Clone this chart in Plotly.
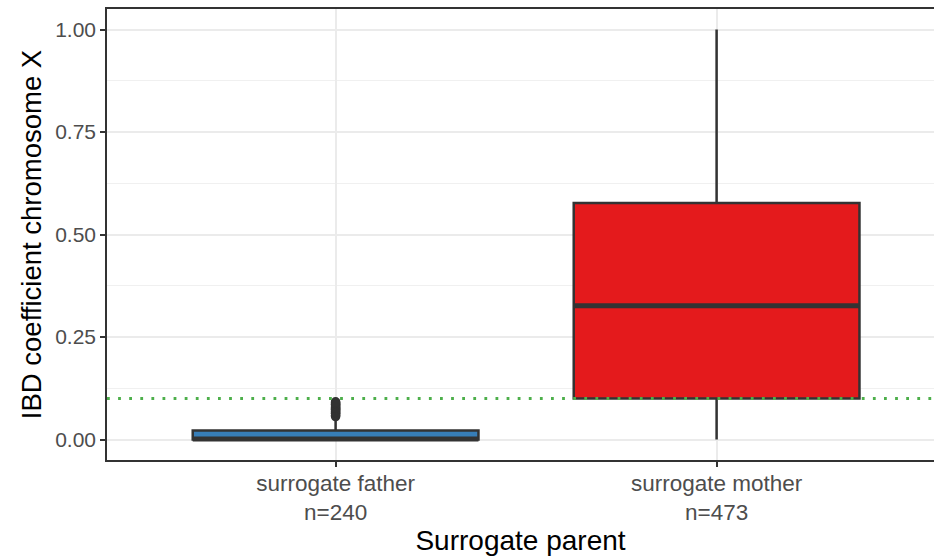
import plotly.graph_objects as go

categories = ["surrogate father", "surrogate mother"]
tick_labels = ["surrogate father<br>n=240", "surrogate mother<br>n=473"]
colors = ["#377eb8", "#e41a1c"]
q1 = [0.0, 0.100]
median = [0.0015, 0.326]
q3 = [0.022, 0.577]
lowerfence = [0.0, 0.0]
upperfence = [0.045, 1.0]
father_outliers = [0.056, 0.059, 0.062, 0.064, 0.066, 0.068, 0.070, 0.072, 0.074,
                   0.076, 0.078, 0.080, 0.082, 0.084, 0.086, 0.088, 0.090, 0.092]
threshold = 0.1

FONT = "Liberation Sans, Arial, sans-serif"
DARK = "#333333"
BOX_W = 0.75

fig = go.Figure()
for i, cat in enumerate(categories):
    fig.add_trace(go.Box(
        x=[cat], q1=[q1[i]], median=[median[i]], q3=[q3[i]],
        lowerfence=[lowerfence[i]], upperfence=[upperfence[i]],
        fillcolor=colors[i], line=dict(color=DARK, width=2.5),
        width=BOX_W, whiskerwidth=0, boxpoints=False, showlegend=False,
    ))
    # thicker median (ggplot fatten)
    fig.add_shape(type="line", xref="x", yref="y",
                  x0=i - BOX_W / 2, x1=i + BOX_W / 2, y0=median[i], y1=median[i],
                  line=dict(color=DARK, width=5), layer="above")

fig.add_trace(go.Scatter(
    x=[categories[0]] * len(father_outliers), y=father_outliers, mode="markers",
    marker=dict(color=DARK, size=9.5, line=dict(width=0)), showlegend=False,
))

fig.add_shape(type="line", xref="paper", yref="y", x0=0, x1=1, y0=threshold, y1=threshold,
              line=dict(color="#4daf4a", width=2.8, dash="2.8px,8.3px"), layer="above")

fig.update_layout(
    width=934, height=556,
    margin=dict(l=107, r=0, t=9, b=96),
    paper_bgcolor="white", plot_bgcolor="white",
    boxmode="overlay",
    font=dict(family=FONT, color="#4d4d4d", size=22),
    xaxis=dict(
        type="category", categoryorder="array", categoryarray=categories,
        range=[-0.6, -0.6 + 827 / 381],
        tickmode="array", tickvals=categories, ticktext=tick_labels,
        ticks="outside", ticklen=5, tickwidth=1.5, tickcolor=DARK,
        ticklabelstandoff=-3,
        showgrid=True, gridcolor="#ebebeb", gridwidth=1.6,
        showline=True, linecolor=DARK, linewidth=1.6, mirror=True,
        tickfont=dict(size=22.5, color="#4d4d4d"),
        title=dict(text="Surrogate parent", font=dict(size=28, color="black"), standoff=0),
        zeroline=False,
    ),
    yaxis=dict(
        range=[-0.05, 1.05],
        tickmode="linear", tick0=0, dtick=0.25, tickformat=".2f",
        ticks="outside", ticklen=5, tickwidth=1.5, tickcolor=DARK,
        showgrid=True, gridcolor="#ebebeb", gridwidth=1.6,
        minor=dict(dtick=0.125, tick0=0, showgrid=True, gridcolor="#f0f0f0", gridwidth=1.3, ticks=""),
        showline=True, linecolor=DARK, linewidth=1.6, mirror=False,
        tickfont=dict(size=21, color="#4d4d4d"),
        title=dict(text="IBD coefficient chromosome X", font=dict(size=27.5, color="black"), standoff=6),
        zeroline=False,
    ),
)

fig.write_html("out.html")
